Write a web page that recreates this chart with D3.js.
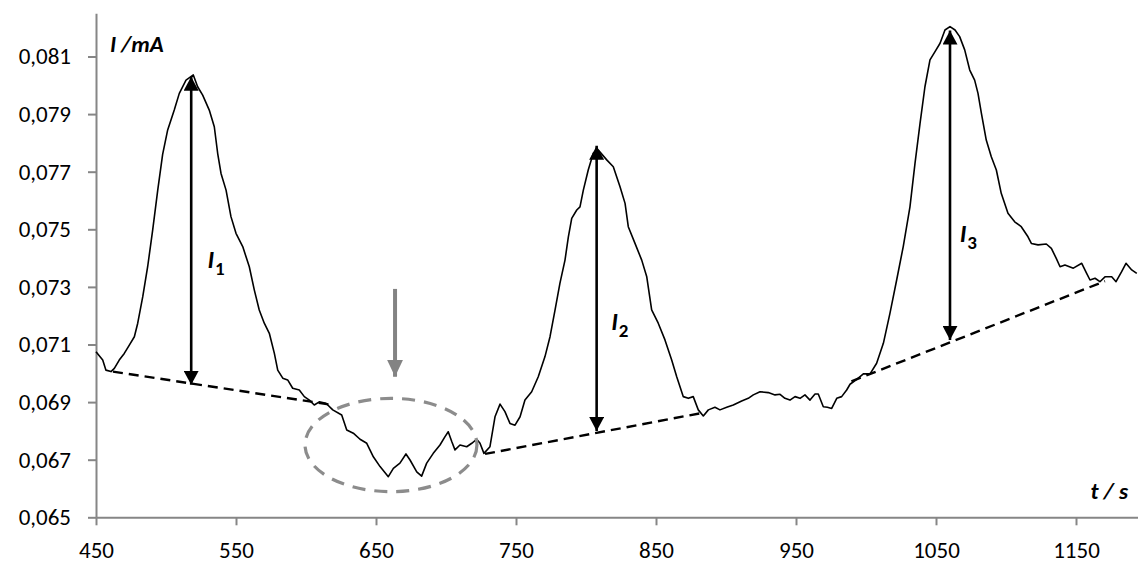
<!DOCTYPE html>
<html><head><meta charset="utf-8">
<script src="https://cdn.jsdelivr.net/npm/d3@7"></script>
<style>body{margin:0;background:#fff}svg{display:block}</style>
</head><body>
<svg id="chart" width="1138" height="563"></svg>
<script>
// ---- data (time in s, current in mA) ----
const trace = [
[450,0.07075],[454.8,0.07046],[457.1,0.07011],[460.7,0.07006],[463.1,0.07017],[466.6,0.07046],[470.2,0.07069],[473.8,0.07098],[477.4,0.07127],[479.8,0.07174],
[483.4,0.07266],[486.9,0.07370],[490.5,0.07498],[494.1,0.07636],[497.6,0.07760],[501.2,0.07845],[505.9,0.07914],[509.5,0.07972],[514.3,0.08018],[519.5,0.08036],
[522.6,0.07995],[526.2,0.07966],[530.9,0.07914],[534.5,0.07856],[536.9,0.07764],[539.3,0.07694],[542.9,0.07636],[546.4,0.07544],[550,0.07486],[554.8,0.07440],
[559.5,0.07370],[563.1,0.07289],[566.6,0.07220],[570.2,0.07174],[573.8,0.07139],[577.4,0.07069],[579.8,0.07011],[583.4,0.06983],[586.9,0.06977],[590.5,0.06948],
[595.2,0.06942],[598.8,0.06919],[602.4,0.06907],[605.9,0.06890],[609.5,0.06901],[614.3,0.06896],[619.1,0.06873],[625.5,0.06855],[629.1,0.06803],[633.8,0.06792],
[638.6,0.06771],[643.4,0.06757],[648.1,0.06710],[652.9,0.06676],[658.8,0.06641],[662.4,0.06670],[667.1,0.06688],[671.4,0.06720],[674.3,0.06699],[679.1,0.06658],
[682.6,0.06643],[686.2,0.06688],[690.9,0.06722],[695.7,0.06751],[699.3,0.06780],[701.6,0.06797],[704.1,0.06763],[706.4,0.06734],[710,0.06751],[714.8,0.06745],
[718.4,0.06757],[721.9,0.06771],[724.3,0.06757],[727.1,0.06722],[731.4,0.06745],[735,0.06849],[738.6,0.06893],[742.1,0.06867],[745.7,0.06826],[749.3,0.06820],
[752.9,0.06849],[756.4,0.06907],[761.2,0.06936],[765.9,0.06988],[770.7,0.07058],[774.3,0.07127],[777.9,0.07220],[781.4,0.07313],[785,0.07393],[787.4,0.07474],
[789.8,0.07538],[793.4,0.07567],[795.7,0.07578],[798.1,0.07636],[801.6,0.07706],[805.2,0.07764],[808.8,0.07775],[814.8,0.07741],[819.5,0.07717],[824.3,0.07648],
[827.9,0.07590],[830.2,0.07509],[835,0.07451],[839.8,0.07393],[843.4,0.07335],[846.9,0.07220],[851.6,0.07174],[856.4,0.07116],[861.2,0.07046],[864.8,0.06988],
[869.5,0.06919],[873.1,0.06913],[876.6,0.06919],[880.2,0.06873],[883.8,0.06852],[887.4,0.06873],[892.1,0.06882],[895.7,0.06873],[900.5,0.06882],[905.2,0.06890],
[911.2,0.06904],[915.9,0.06913],[919.5,0.06925],[924.3,0.06936],[930.2,0.06933],[935,0.06925],[938.6,0.06927],[942.1,0.06913],[945.7,0.06907],[949.3,0.06919],
[952.9,0.06913],[956.4,0.06925],[960,0.06907],[963.6,0.06928],[965.9,0.06928],[969.5,0.06884],[972.4,0.06882],[975.5,0.06878],[979.1,0.06913],[982.6,0.06919],
[986.2,0.06942],[988.6,0.06962],[993.4,0.06979],[998.1,0.06998],[1002.9,0.06998],[1007.6,0.07035],[1012.4,0.07104],[1017.1,0.07208],[1021.9,0.07324],[1026.6,0.07440],
[1031.4,0.07578],[1035,0.07729],[1038.6,0.07868],[1042.1,0.07995],[1045.7,0.08088],[1049.3,0.08117],[1052.9,0.08146],[1056.4,0.08192],[1060,0.08204],[1063.6,0.08192],
[1066.9,0.08169],[1070.5,0.08123],[1074.1,0.08053],[1077.6,0.08018],[1080,0.07972],[1082.4,0.07903],[1085.9,0.07810],[1089.5,0.07752],[1093.1,0.07706],[1096.6,0.07625],
[1101.4,0.07556],[1106.2,0.07526],[1110.9,0.07509],[1115.7,0.07474],[1118.1,0.07451],[1122.9,0.07446],[1128.8,0.07449],[1132.4,0.07434],[1135.9,0.07399],[1138.6,0.07370],
[1142.1,0.07376],[1148.1,0.07365],[1154.1,0.07382],[1157.6,0.07347],[1160,0.07324],[1163.6,0.07330],[1167.1,0.07318],[1170.7,0.07335],[1175.5,0.07335],[1178.6,0.07318],
[1182.6,0.07353],[1185.7,0.07382],[1189.8,0.07359],[1193.4,0.07347]
];

const xTicks = [450, 550, 650, 750, 850, 950, 1050, 1150];
const yTicks = [0.065, 0.067, 0.069, 0.071, 0.073, 0.075, 0.077, 0.079, 0.081];
const xDomain = [450, 1195];
const yDomain = [0.065, 0.0825];

// baselines (dashed): [[t0, I0], [t1, I1]]
const baseline1 = [[462.1, 0.07006], [619.1, 0.06890]];
const baseline2 = [[727.9, 0.06720], [881.4, 0.06861]];
const baseline3 = [[989.6, 0.06972], [1170.7, 0.07320]];

// peak height arrows
const arrowTimes = [518, 807.6, 1060];
const arrowLow = [0.0696, 0.0680, 0.07116];
const arrowHigh = [0.0803, 0.0779, 0.0819];
const arrowSubs = ["1", "2", "3"];
const labelTimes = [529.6, 818.0, 1066.9];
const labelCurrents = [0.07365, 0.07151, 0.07457];

// highlighted dip region
const dipCenter = [660.7, 0.06751];
const dipRadius = [61.4, 0.00162];
const dipArrow = [[663.6, 0.07293], [663.6, 0.06988]];

// ---- drawing ----
const svg = d3.select("#chart");
const W = 1138, H = 563;
const m = {left: 96, top: 13.3, right: -1, bottom: H - 517.3};
const x = d3.scaleLinear().domain(xDomain).range([m.left, W - m.right]);
const y = d3.scaleLinear().domain(yDomain).range([H - m.bottom, m.top]);

const FONT = "Carlito, Calibri, Lato, sans-serif";
const loc = d3.formatLocale({decimal: ",", thousands: ".", grouping: [3], currency: ["", ""]});
const yfmt = loc.format(".3f");

const defs = svg.append("defs");
function marker(id, w, l, color) {
  defs.append("marker").attr("id", id)
    .attr("markerUnits", "userSpaceOnUse")
    .attr("viewBox", `0 0 ${l} ${w}`)
    .attr("markerWidth", l).attr("markerHeight", w)
    .attr("refX", l).attr("refY", w / 2)
    .attr("orient", "auto-start-reverse")
    .append("path").attr("d", `M0,0L${l},${w / 2}L0,${w}Z`).attr("fill", color);
}
marker("headBlack", 15, 14, "#000");
marker("headGray", 16, 17, "#838383");

// axes
const gx = svg.append("g").attr("transform", `translate(0,${y(yDomain[0])})`)
  .call(d3.axisBottom(x).tickValues(xTicks).tickSize(8).tickSizeOuter(0).tickPadding(16).tickFormat(d3.format("d")));
const gy = svg.append("g").attr("transform", `translate(${x(xDomain[0])},0)`)
  .call(d3.axisLeft(y).tickValues(yTicks).tickSize(8).tickSizeOuter(0).tickPadding(17).tickFormat(yfmt));
[gx, gy].forEach(g => {
  g.select(".domain").attr("stroke", "#868686").attr("stroke-width", 2);
  g.selectAll(".tick line").attr("stroke", "#868686").attr("stroke-width", 2);
  g.selectAll(".tick text").attr("fill", "#000").attr("font-family", FONT).attr("font-size", 23);
});

// trace
const line = d3.line().x(d => x(d[0])).y(d => y(d[1]));
svg.append("path").datum(trace).attr("d", line)
  .attr("fill", "none").attr("stroke", "#000").attr("stroke-width", 1.6).attr("stroke-linejoin", "round");

// baselines
[baseline1, baseline2, baseline3].forEach(b => {
  svg.append("path").datum(b).attr("d", line)
    .attr("fill", "none").attr("stroke", "#000").attr("stroke-width", 2.4).attr("stroke-dasharray", "10,6");
});

// dip ellipse
svg.append("ellipse")
  .attr("cx", x(dipCenter[0])).attr("cy", y(dipCenter[1]))
  .attr("rx", x(dipCenter[0] + dipRadius[0]) - x(dipCenter[0]))
  .attr("ry", y(dipCenter[1] - dipRadius[1]) - y(dipCenter[1]))
  .attr("fill", "none").attr("stroke", "#8c8c8c").attr("stroke-width", 3.2).attr("stroke-dasharray", "13,9");

// gray arrow
svg.append("path").datum(dipArrow).attr("d", line)
  .attr("stroke", "#838383").attr("stroke-width", 4).attr("fill", "none").attr("marker-end", "url(#headGray)");

// peak arrows
arrowTimes.forEach((t, i) => {
  svg.append("line")
    .attr("x1", x(t)).attr("y1", y(arrowLow[i]))
    .attr("x2", x(t)).attr("y2", y(arrowHigh[i]))
    .attr("stroke", "#000").attr("stroke-width", 2.6)
    .attr("marker-start", "url(#headBlack)").attr("marker-end", "url(#headBlack)");
  const tx = svg.append("text").attr("x", x(labelTimes[i])).attr("y", y(labelCurrents[i]))
    .attr("font-family", FONT).attr("font-weight", "bold").attr("fill", "#000");
  tx.append("tspan").attr("font-style", "italic").attr("font-size", 25).text("I");
  tx.append("tspan").attr("font-size", 19).attr("dx", 1).attr("dy", 7).text(arrowSubs[i]);
});

// axis titles
svg.append("text").attr("x", x(xDomain[0]) + 14).attr("y", y(yDomain[1]) + 39)
  .attr("font-family", FONT).attr("font-weight", "bold").attr("font-style", "italic")
  .attr("font-size", 23).attr("fill", "#000").text("I /mA");
svg.append("text").attr("x", x(1150) + 52).attr("y", y(yDomain[0]) - 18).attr("text-anchor", "end")
  .attr("font-family", FONT).attr("font-weight", "bold").attr("font-style", "italic")
  .attr("font-size", 23).attr("fill", "#000").text("t / s");
</script>
</body></html>
